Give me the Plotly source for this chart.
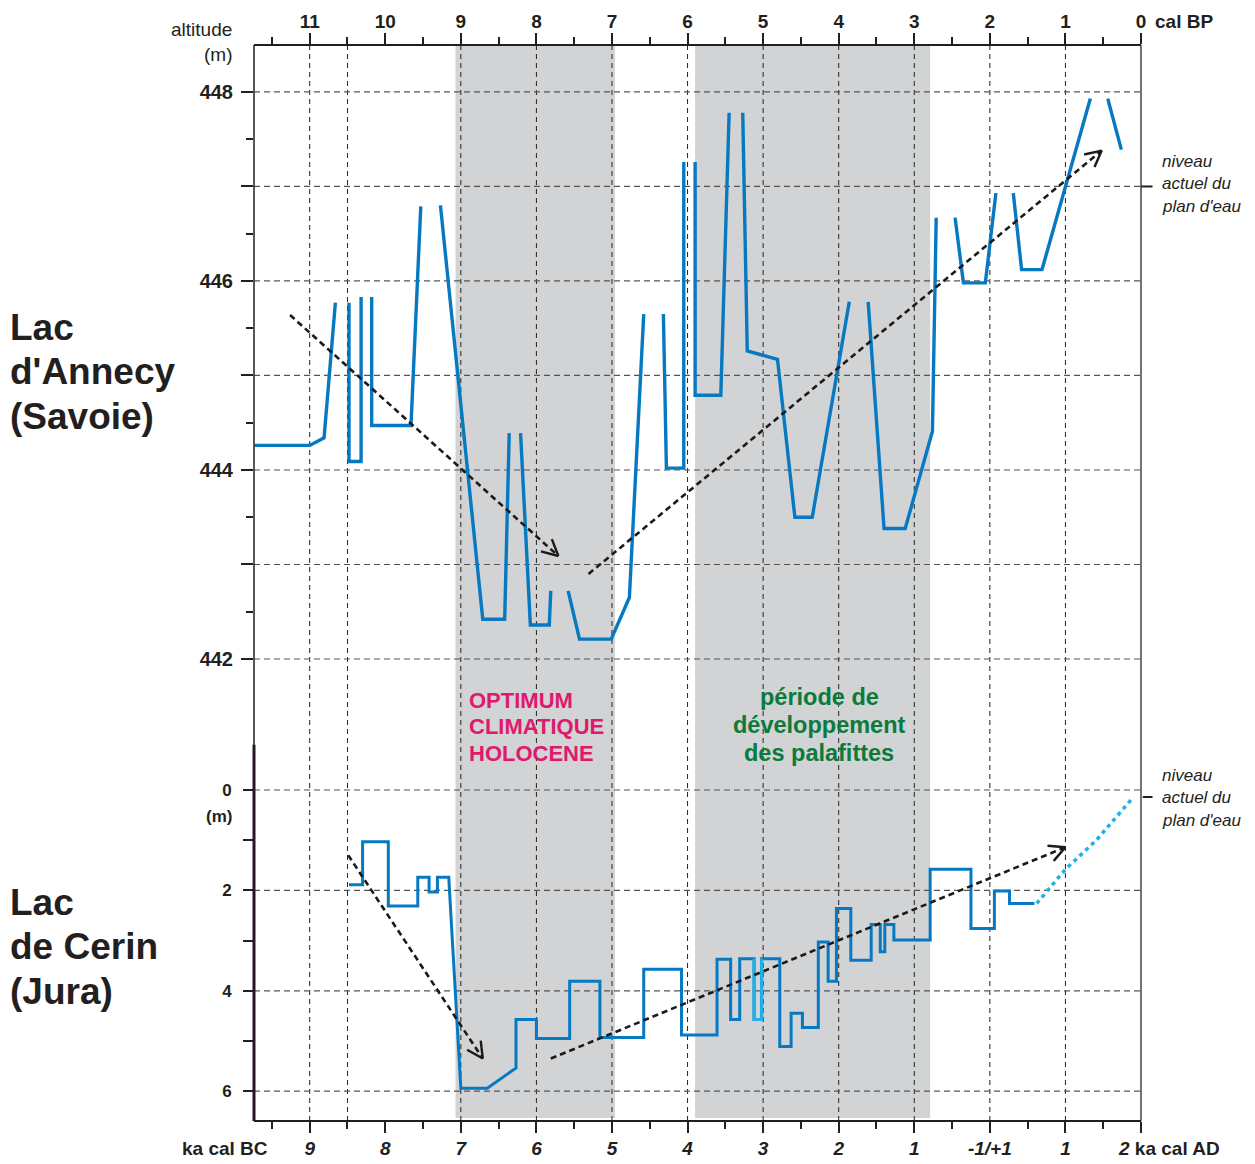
import math
import plotly.graph_objects as go

# ------------------------------------------------------------------ data
BP_TICKS = [11, 10, 9, 8, 7, 6, 5, 4, 3, 2, 1, 0]
BP_TICK_LABELS = ["11", "10", "9", "8", "7", "6", "5", "4", "3", "2", "1", "0"]
BCAD_TICK_LABELS = ["9", "8", "7", "6", "5", "4", "3", "2", "1", "-1/+1", "1", ""]
BP_MINOR = [11.5, 10.5, 9.5, 8.5, 7.5, 6.5, 5.5, 4.5, 3.5, 2.5, 1.5, 0.5]
GRID_X = [11, 10.5, 9, 8, 7, 6, 5, 4, 3, 2, 1]
ALT_TICKS = [442, 443, 444, 445, 446, 447, 448]
ALT_LABELS = ["442", "", "444", "", "446", "", "448"]
ALT_MINOR = [442.5, 443.5, 444.5, 445.5, 446.5, 447.5]
ALT_GRID = [442, 443, 444, 445, 446, 447, 448]
DEPTH_TICKS = [0, 1, 2, 3, 4, 5, 6]
DEPTH_LABELS = ["0", "", "2", "", "4", "", "6"]
DEPTH_GRID = [0, 2, 4, 6]

# shaded periods (ka cal BP)
OPTIMUM_PERIOD = [9.07, 6.96]
PALAFITTE_PERIOD = [5.90, 2.79]

# Lac d'Annecy lake level (m), segments separated by gaps
ANNECY_BP = [
    [11.73, 11.00, 10.81, 10.66],
    [10.48, 10.48, 10.32, 10.32],
    [10.18, 10.18, 9.66, 9.53],
    [9.27, 8.71, 8.42, 8.36],
    [8.21, 8.08, 7.83, 7.81],
    [7.58, 7.43, 7.01, 6.77, 6.58],
    [6.32, 6.28, 6.05, 6.05],
    [5.90, 5.90, 5.56, 5.45],
    [5.27, 5.21, 4.81, 4.58, 4.35, 3.86],
    [3.61, 3.40, 3.12, 2.76, 2.71],
    [2.46, 2.35, 2.06, 1.92],
    [1.69, 1.58, 1.31, 0.67],
    [0.44, 0.26],
]
ANNECY_ALT = [
    [444.26, 444.26, 444.34, 445.77],
    [445.77, 444.09, 444.09, 445.83],
    [445.83, 444.47, 444.47, 446.79],
    [446.80, 442.42, 442.42, 444.39],
    [444.39, 442.36, 442.36, 442.72],
    [442.72, 442.21, 442.21, 442.65, 445.65],
    [445.65, 444.02, 444.02, 447.26],
    [447.26, 444.79, 444.79, 447.78],
    [447.78, 445.26, 445.17, 443.50, 443.50, 445.78],
    [445.78, 443.38, 443.38, 444.41, 446.67],
    [446.67, 445.98, 445.98, 446.93],
    [446.93, 446.12, 446.12, 447.93],
    [447.93, 447.39],
]

# Lac de Cerin lake level (m below present level)
CERIN_BP = [10.48, 10.30, 10.30, 9.96, 9.96, 9.57, 9.57, 9.42, 9.42, 9.31, 9.31, 9.16,
            9.00, 8.65, 8.27, 8.27, 8.00, 8.00, 7.56, 7.56, 7.16, 7.16, 6.58, 6.58,
            6.08, 6.08, 5.61, 5.61, 5.43, 5.43, 5.31, 5.31, 5.12, 5.12, 5.02, 5.02,
            4.78, 4.78, 4.63, 4.63, 4.48, 4.48, 4.27, 4.27, 4.14, 4.14, 4.03, 4.03,
            3.84, 3.84, 3.57, 3.57, 3.45, 3.45, 3.39, 3.39, 3.27, 3.27, 2.79, 2.79,
            2.25, 2.25, 1.94, 1.94, 1.74, 1.74, 1.41]
CERIN_DEPTH = [1.89, 1.89, 1.03, 1.03, 2.31, 2.31, 1.74, 1.74, 2.03, 2.03, 1.74, 1.74,
               5.94, 5.94, 5.54, 4.57, 4.57, 4.95, 4.95, 3.81, 3.81, 4.93, 4.93, 3.57,
               3.57, 4.88, 4.88, 3.37, 3.37, 4.57, 4.57, 3.36, 3.36, 4.57, 4.57, 3.36,
               3.36, 5.11, 5.11, 4.45, 4.45, 4.73, 4.73, 3.03, 3.03, 3.81, 3.81, 2.36,
               2.36, 3.39, 3.39, 2.68, 2.68, 3.22, 3.22, 2.68, 2.68, 2.99, 2.99, 1.58,
               1.58, 2.76, 2.76, 2.01, 2.01, 2.26, 2.26]
CERIN_LIGHT_BP = [5.12, 5.12, 5.02, 5.02]
CERIN_LIGHT_DEPTH = [3.36, 4.57, 4.57, 3.36]
CERIN_EXT_BP = [1.38, 1.00, 0.59, 0.10]
CERIN_EXT_DEPTH = [2.26, 1.58, 1.00, 0.14]

# trend arrows: (start_bp, start_val, end_bp, end_val, panel)
ARROWS = [
    (11.26, 445.64, 7.71, 443.09, "alt"),
    (7.31, 442.90, 0.52, 447.38, "alt"),
    (10.49, 1.30, 8.71, 5.35, "depth"),
    (7.81, 5.35, 1.00, 1.14, "depth"),
]

# ------------------------------------------------------------------ geometry
W, H = 1255, 1164
PL, PR, PT, PB = 254, 1141, 45, 1121           # plot area in px
X_RANGE = [11.737, 0.0]
ALT_RANGE = [437.111, 448.497]
DEPTH_RANGE = [6.594, -14.841]

def x2px(v):
    return PL + (v - X_RANGE[0]) / (X_RANGE[1] - X_RANGE[0]) * (PR - PL)

def px2x(p):
    return X_RANGE[0] + (p - PL) / (PR - PL) * (X_RANGE[1] - X_RANGE[0])

def y2px(v, r):
    return PB - (v - r[0]) / (r[1] - r[0]) * (PB - PT)

def px2y(p, r):
    return r[0] + (PB - p) / (PB - PT) * (r[1] - r[0])

def pap_x(p):
    return (p - PL) / (PR - PL)

def pap_y(p):
    return (PB - p) / (PB - PT)

BLUE = "#0679c2"
LIGHT = "#1fb1ea"
GREY_BAND = "#d1d3d4"
FONT = "Liberation Sans, Arial, sans-serif"

fig = go.Figure()

# Annecy line
ax_, ay_ = [], []
for xs, ys in zip(ANNECY_BP, ANNECY_ALT):
    ax_ += xs + [None]
    ay_ += ys + [None]
fig.add_trace(go.Scatter(x=ax_, y=ay_, mode="lines", yaxis="y",
                         line=dict(color=BLUE, width=3.4), connectgaps=False,
                         hoverinfo="skip", showlegend=False))

# Cerin line
fig.add_trace(go.Scatter(x=CERIN_BP, y=CERIN_DEPTH, mode="lines", yaxis="y2",
                         line=dict(color=BLUE, width=3), hoverinfo="skip", showlegend=False))
fig.add_trace(go.Scatter(x=CERIN_LIGHT_BP, y=CERIN_LIGHT_DEPTH, mode="lines", yaxis="y2",
                         line=dict(color=LIGHT, width=3), hoverinfo="skip", showlegend=False))
fig.add_trace(go.Scatter(x=CERIN_EXT_BP, y=CERIN_EXT_DEPTH, mode="lines", yaxis="y2",
                         line=dict(color=LIGHT, width=3.5, dash="4px,4px"),
                         hoverinfo="skip", showlegend=False))

# trend arrows
for (x0, v0, x1, v1, panel) in ARROWS:
    yax = "y" if panel == "alt" else "y2"
    r = ALT_RANGE if panel == "alt" else DEPTH_RANGE
    fig.add_trace(go.Scatter(x=[x0, x1], y=[v0, v1], mode="lines", yaxis=yax,
                             line=dict(color="#1a1a1a", width=2.6, dash="6px,4px"),
                             hoverinfo="skip", showlegend=False))
    # open chevron head computed in pixel space
    p0 = (x2px(x0), y2px(v0, r))
    p1 = (x2px(x1), y2px(v1, r))
    ang = math.atan2(p1[1] - p0[1], p1[0] - p0[0])
    L, a = 18, math.radians(27)
    wx, wy = [], []
    for s in (-1, 1):
        qx = p1[0] - L * math.cos(ang + s * a)
        qy = p1[1] - L * math.sin(ang + s * a)
        wx += [px2x(qx), x1]
        wy += [px2y(qy, r), v1]
        if s == -1:
            wx += [None]
            wy += [None]
    fig.add_trace(go.Scatter(x=wx, y=wy, mode="lines", yaxis=yax,
                             line=dict(color="#1a1a1a", width=2.4),
                             hoverinfo="skip", showlegend=False))

shapes = []
# shaded bands
for (a0, a1) in (OPTIMUM_PERIOD, PALAFITTE_PERIOD):
    shapes.append(dict(type="rect", xref="x", yref="paper", x0=a0, x1=a1,
                       y0=pap_y(1118), y1=1, fillcolor=GREY_BAND, line_width=0,
                       layer="below"))
# vertical grid
for g in GRID_X:
    shapes.append(dict(type="line", xref="x", yref="paper", x0=g, x1=g, y0=0, y1=1,
                       line=dict(color="#222222", width=1, dash="5px,4px"), layer="below"))
# horizontal grids
for g in ALT_GRID:
    shapes.append(dict(type="line", xref="paper", yref="y", x0=0, x1=1, y0=g, y1=g,
                       line=dict(color="#555555", width=1.2, dash="6px,4px"), layer="below"))
for g in DEPTH_GRID:
    shapes.append(dict(type="line", xref="paper", yref="y2", x0=0, x1=1, y0=g, y1=g,
                       line=dict(color="#555555", width=1.2, dash="6px,4px"), layer="below"))
# frame lines
shapes.append(dict(type="line", xref="paper", yref="paper", x0=0, x1=1, y0=1, y1=1,
                   line=dict(color="#231f20", width=2)))
shapes.append(dict(type="line", xref="paper", yref="paper", x0=0, x1=1, y0=0, y1=0,
                   line=dict(color="#231f20", width=2)))
shapes.append(dict(type="line", xref="paper", yref="paper", x0=1, x1=1, y0=0, y1=1,
                   line=dict(color="#444444", width=1.5)))
# left axis of Annecy panel
shapes.append(dict(type="line", xref="paper", yref="y", x0=0, x1=0, y0=441.0, y1=ALT_RANGE[1],
                   line=dict(color="#231f20", width=1.5)))
# left axis of Cerin panel
shapes.append(dict(type="line", xref="paper", yref="y2", x0=0, x1=0, y0=-0.9, y1=DEPTH_RANGE[0],
                   line=dict(color="#2a1428", width=3)))
# present water level marks
shapes.append(dict(type="line", xref="paper", yref="y", x0=1, x1=1.013, y0=447, y1=447,
                   line=dict(color="#231f20", width=2)))
shapes.append(dict(type="line", xref="paper", yref="y2", x0=1.002, x1=1.013, y0=0.14, y1=0.14,
                   line=dict(color="#231f20", width=2)))

ann = []

def text(px, py, s, size, color="#231f20", bold=False, italic=False, xanchor="left"):
    if bold:
        s = "<b>" + s + "</b>"
    if italic:
        s = "<i>" + s + "</i>"
    ann.append(dict(x=pap_x(px), y=pap_y(py), xref="paper", yref="paper", text=s,
                    showarrow=False, xanchor=xanchor, yanchor="middle",
                    font=dict(family=FONT, size=size, color=color)))

# lake names
for i, s in enumerate(["Lac", "d'Annecy", "(Savoie)"]):
    text(8, 327 + 44.5 * i, s, 37, bold=True)
for i, s in enumerate(["Lac", "de Cerin", "(Jura)"]):
    text(8, 902 + 44.5 * i, s, 37, bold=True)

# axis captions
text(234, 30, "altitude", 19, xanchor="right")
text(234, 55, "(m)", 19, xanchor="right")
text(234, 816, "(m)", 17, bold=True, xanchor="right")
text(1153, 22, "cal BP", 19, bold=True)
text(1116, 1148, "<i>2</i> ka cal AD", 19, bold=True)
text(180, 1148, "ka cal BC", 19, bold=True)

# period labels
for i, s in enumerate(["OPTIMUM", "CLIMATIQUE", "HOLOCENE"]):
    text(467, 700 + 26.5 * i, s, 22, color="#e0196d", bold=True)
for i, s in enumerate(["période de", "développement", "des palafittes"]):
    text(819, 697 + 28 * i, s, 23.5, color="#0b7a3b", bold=True, xanchor="center")

# present lake level notes
for base in (161, 775):
    for i, s in enumerate(["niveau", "actuel du", "plan d'eau"]):
        text(1160, base + 22.5 * i, s, 17, italic=True)

tickfont = dict(family=FONT, size=19, color="#231f20")

fig.update_layout(
    template="none",
    width=W, height=H,
    margin=dict(l=PL, r=W - PR, t=PT, b=H - PB, pad=0, autoexpand=False),
    paper_bgcolor="white", plot_bgcolor="white",
    showlegend=False,
    shapes=shapes, annotations=ann,
    xaxis=dict(range=X_RANGE, tickmode="array", tickvals=BP_TICKS,
               ticktext=["<b><i>%s</i></b>" % t if t else "" for t in BCAD_TICK_LABELS],
               ticks="outside", ticklen=11, tickwidth=2, tickcolor="#231f20",
               minor=dict(tickmode="array", tickvals=BP_MINOR, ticks="outside",
                          ticklen=7, tickwidth=2, tickcolor="#231f20", showgrid=False),
               showgrid=False, zeroline=False, showline=False, automargin=False,
               tickfont=tickfont, ticklabelstandoff=-1),
    xaxis2=dict(range=X_RANGE, overlaying="x", side="top", anchor="y",
                tickmode="array", tickvals=BP_TICKS,
                ticktext=["<b>%s</b>" % t for t in BP_TICK_LABELS],
                ticks="outside", ticklen=11, tickwidth=2, tickcolor="#231f20",
                minor=dict(tickmode="array", tickvals=BP_MINOR, ticks="outside",
                           ticklen=7, tickwidth=2, tickcolor="#231f20", showgrid=False),
                showgrid=False, zeroline=False, showline=False, automargin=False,
                tickfont=tickfont, ticklabelstandoff=-3),
    yaxis=dict(range=ALT_RANGE, tickmode="array", tickvals=ALT_TICKS,
               ticktext=["<b>%s</b>" % t if t else "" for t in ALT_LABELS],
               ticks="outside", ticklen=12, tickwidth=1.5, tickcolor="#231f20",
               minor=dict(tickmode="array", tickvals=ALT_MINOR, ticks="outside",
                          ticklen=7, tickwidth=1.5, tickcolor="#231f20", showgrid=False),
               showgrid=False, zeroline=False, showline=False, automargin=False,
               tickfont=dict(family=FONT, size=20, color="#231f20"), ticklabelstandoff=4),
    yaxis2=dict(range=DEPTH_RANGE, overlaying="y", side="left", anchor="x",
                tickmode="array", tickvals=DEPTH_TICKS,
                ticktext=["<b>%s</b>" % t if t else "" for t in DEPTH_LABELS],
                ticks="outside", ticklen=10, tickwidth=1.5, tickcolor="#231f20",
                showgrid=False, zeroline=False, showline=False, automargin=False,
                tickfont=dict(family=FONT, size=17, color="#231f20"), ticklabelstandoff=8),
)
# dummy trace so xaxis2 is drawn
fig.add_trace(go.Scatter(x=[None], y=[None], xaxis="x2", yaxis="y", showlegend=False,
                         hoverinfo="skip"))

fig.write_html("out.html", config={"displayModeBar": False},
               post_script="document.body.style.margin='0';")
